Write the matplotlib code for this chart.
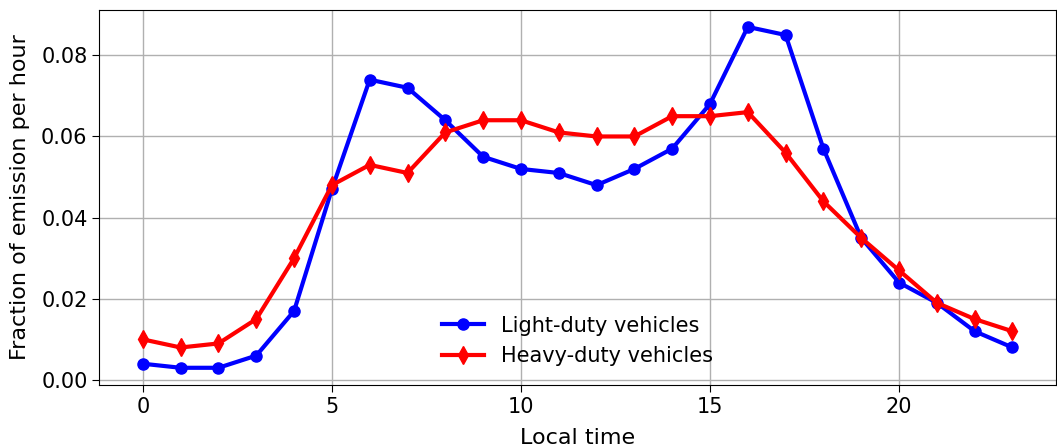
import matplotlib
matplotlib.use('Agg')
import matplotlib.pyplot as plt
import numpy as np

hours = np.arange(24)
light_duty = [0.004, 0.003, 0.003, 0.006, 0.017, 0.047, 0.074, 0.072, 0.064, 0.055, 0.052, 0.051,
              0.048, 0.052, 0.057, 0.068, 0.087, 0.085, 0.057, 0.035, 0.024, 0.019, 0.012, 0.008]
heavy_duty = [0.010, 0.008, 0.009, 0.015, 0.030, 0.048, 0.053, 0.051, 0.061, 0.064, 0.064, 0.061,
              0.060, 0.060, 0.065, 0.065, 0.066, 0.056, 0.044, 0.035, 0.027, 0.019, 0.015, 0.012]

fig = plt.figure(figsize=(10.57, 4.48), dpi=100)
ax = fig.add_subplot(111)
fig.subplots_adjust(left=0.094, right=0.999, top=0.978, bottom=0.141)

ax.plot(hours, light_duty, color='blue', marker='o', linewidth=3, markersize=8,
        label='Light-duty vehicles')
ax.plot(hours, heavy_duty, color='red', marker='d', linewidth=3, markersize=9,
        label='Heavy-duty vehicles')

ax.grid(True, color='#b0b0b0', linewidth=1)
ax.set_xticks([0, 5, 10, 15, 20])
ax.tick_params(labelsize=15, length=5)
ax.set_xlabel('Local time', fontsize=16, labelpad=8)
ax.set_ylabel('Fraction of emission per hour', fontsize=16, labelpad=8)
ax.legend(loc='lower center', frameon=False, fontsize=15)

fig.savefig('out.png', dpi=100)
